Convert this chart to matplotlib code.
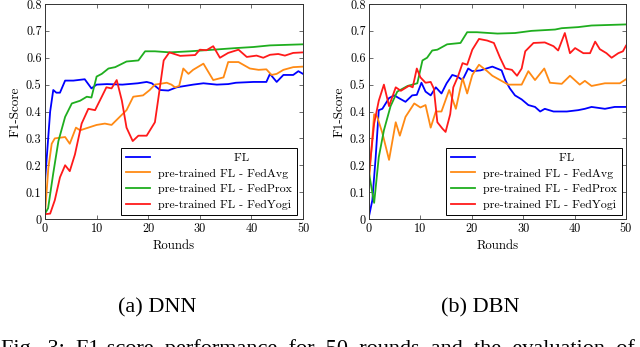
"""F1-score vs rounds for DNN and DBN, FL vs pre-trained FL variants."""

import matplotlib
matplotlib.use("Agg")
import matplotlib.pyplot as plt

# ---- data ----
dnn_fl_r = [0, 1, 1.6, 2.2, 2.9, 3.9, 5.5, 7.7, 9.0, 10, 12, 15, 18, 19.7, 20.7, 22.3,
            23.9, 25.5, 28.7, 30.7, 33.3, 35.5, 37, 40.4, 42.9, 43.6, 44.9, 46.2, 48.1, 49.1, 50]
dnn_fl = [0.14, 0.40, 0.48, 0.47, 0.47, 0.515, 0.515, 0.52, 0.486, 0.50, 0.502, 0.50, 0.505,
          0.51, 0.505, 0.48, 0.478, 0.49, 0.50, 0.505, 0.50, 0.502, 0.507, 0.51, 0.51, 0.54,
          0.51, 0.536, 0.536, 0.55, 0.54]

dnn_avg_r = [0, 0.65, 1.3, 1.9, 3.9, 4.8, 6.0, 6.8, 10, 11.6, 12.9, 15.8, 17.1, 19, 20.3,
             21.3, 23.6, 24.5, 25.2, 26.0, 26.8, 27.8, 28.7, 30.7, 32.6, 34.6, 35.5, 37.5,
             39.7, 41.4, 42.9, 43.9, 44.9, 46.2, 48.1, 50]
dnn_avg = [0.02, 0.19, 0.28, 0.30, 0.305, 0.28, 0.34, 0.33, 0.35, 0.355, 0.35, 0.405, 0.455,
           0.46, 0.48, 0.50, 0.507, 0.50, 0.49, 0.495, 0.56, 0.54, 0.555, 0.578, 0.517, 0.527,
           0.584, 0.584, 0.56, 0.555, 0.557, 0.536, 0.54, 0.555, 0.565, 0.567]

dnn_prox_r = [0, 0.6, 1.6, 2.6, 3.9, 5.2, 6.8, 8.1, 9.0, 10, 11, 12.3, 13.6, 15.8, 18.1,
              19.4, 21.3, 24.2, 28.1, 32.6, 37, 40.4, 43.6, 50]
dnn_prox = [0.02, 0.04, 0.17, 0.29, 0.38, 0.43, 0.44, 0.455, 0.452, 0.53, 0.54, 0.56, 0.565,
            0.586, 0.59, 0.624, 0.624, 0.62, 0.624, 0.63, 0.636, 0.64, 0.646, 0.65]

dnn_yogi_r = [0, 1, 1.9, 2.9, 3.9, 4.8, 5.8, 7.1, 8.4, 9.7, 11, 11.9, 12.9, 13.9, 14.9, 15.8,
              17, 18.1, 19.7, 21.3, 21.9, 23, 24.1, 26.2, 29.1, 30, 31.3, 32.6, 33.9, 35.5,
              37.5, 39.1, 41, 42.3, 43.6, 45.2, 46.5, 48.1, 50]
dnn_yogi = [0.018, 0.02, 0.07, 0.155, 0.20, 0.178, 0.24, 0.355, 0.41, 0.405, 0.455, 0.49,
            0.486, 0.517, 0.44, 0.34, 0.29, 0.31, 0.31, 0.36, 0.44, 0.59, 0.62, 0.607, 0.61,
            0.63, 0.628, 0.643, 0.60, 0.618, 0.63, 0.603, 0.608, 0.60, 0.611, 0.614, 0.608,
            0.618, 0.62]

dbn_fl_r = [0, 0.65, 1.3, 1.9, 2.6, 3.9, 4.9, 5.8, 7.1, 8.4, 9.3, 10.2, 11, 12, 13, 14.1,
            15.1, 16.2, 17.2, 18.2, 19.3, 20.1, 21.7, 24, 25.8, 26.5, 27.4, 28.4, 29.7, 31,
            32.3, 33.3, 34.2, 35.9, 38.5, 40.7, 42, 43.3, 45.9, 47.8, 50]
dbn_fl = [0.01, 0.07, 0.23, 0.405, 0.41, 0.45, 0.46, 0.45, 0.436, 0.46, 0.462, 0.507, 0.474,
          0.46, 0.49, 0.467, 0.505, 0.536, 0.53, 0.517, 0.56, 0.55, 0.553, 0.567, 0.553,
          0.517, 0.486, 0.46, 0.445, 0.424, 0.417, 0.40, 0.41, 0.40, 0.40, 0.405, 0.41,
          0.417, 0.41, 0.417, 0.417]

dbn_avg_r = [0, 1, 1.6, 2.6, 3.9, 5.2, 6, 7.1, 8.8, 10, 11, 12, 13, 14.1, 15.6, 16.9, 18.2,
             19.1, 20.1, 21.4, 23, 24, 25.5, 27.1, 29.7, 31, 32.3, 34.1, 35.2, 37.5, 39.1,
             41, 42, 43.3, 45.9, 48.8, 50]
dbn_avg = [0.14, 0.39, 0.38, 0.32, 0.22, 0.36, 0.31, 0.38, 0.43, 0.415, 0.424, 0.34, 0.40,
           0.40, 0.48, 0.41, 0.524, 0.467, 0.536, 0.574, 0.55, 0.533, 0.517, 0.50, 0.50,
           0.55, 0.517, 0.56, 0.507, 0.503, 0.533, 0.50, 0.514, 0.495, 0.505, 0.505, 0.52]

dbn_prox_r = [0, 1, 1.9, 2.9, 4.2, 5.5, 7.5, 9.4, 10.4, 11.3, 12.3, 13.3, 15.2, 17.8, 19.1,
              21, 25, 28.4, 31.6, 36.2, 37.5, 40.7, 43.3, 50]
dbn_prox = [0.17, 0.06, 0.23, 0.33, 0.42, 0.474, 0.495, 0.505, 0.59, 0.60, 0.627, 0.63, 0.65,
            0.655, 0.695, 0.695, 0.69, 0.692, 0.70, 0.705, 0.71, 0.714, 0.72, 0.724]

dbn_yogi_r = [0, 1, 1.9, 2.9, 3.9, 5.2, 6.2, 7.8, 8.5, 9.3, 10, 11, 12, 12.6, 13.3, 14.3,
              14.9, 15.8, 16.4, 17.3, 18.2, 19.1, 20.1, 21.4, 23, 24.3, 25.5, 26.5, 27.8,
              28.8, 29.7, 30.4, 32, 34.2, 35.9, 36.8, 38.1, 39.1, 40.1, 41.7, 43, 44, 44.9,
              46.2, 47.2, 48.5, 49.4, 50]
dbn_yogi = [0.17, 0.355, 0.44, 0.50, 0.42, 0.49, 0.477, 0.496, 0.49, 0.56, 0.527, 0.507,
            0.51, 0.486, 0.36, 0.336, 0.324, 0.39, 0.49, 0.53, 0.58, 0.574, 0.63, 0.67,
            0.664, 0.655, 0.60, 0.56, 0.555, 0.533, 0.56, 0.624, 0.655, 0.657, 0.643, 0.627,
            0.692, 0.617, 0.636, 0.617, 0.617, 0.66, 0.632, 0.617, 0.60, 0.617, 0.624, 0.645]

labels = ["FL", "pre-trained FL - FedAvg", "pre-trained FL - FedProx", "pre-trained FL - FedYogi"]
colors = ["#0000ff", "#ff8a14", "#1fae1f", "#ff1a1a"]
x_ticks = [0, 10, 20, 30, 40, 50]
y_ticks = [0, 0.1, 0.2, 0.3, 0.4, 0.5, 0.6, 0.7, 0.8]
y_tick_labels = ["0", "0.1", "0.2", "0.3", "0.4", "0.5", "0.6", "0.7", "0.8"]
caption = "Fig.  3:  F1-score  performance  for  50  rounds  and  the  evaluation  of"

AX_FONT = "cmr10"
CAP_FONT = "Liberation Serif"
W, H = 640, 347


def draw_panel(ax, series, legend_x):
    for (r, v), lab, c in zip(series, labels, colors):
        ax.plot(r, v, color=c, linewidth=1.3, label=lab)
    ax.set_xlim(0, 50)
    ax.set_ylim(0, 0.8)
    ax.set_xticks(x_ticks)
    ax.set_yticks(y_ticks)
    ax.set_yticklabels(y_tick_labels)
    ax.tick_params(direction="in", top=True, right=True, length=3, width=0.6,
                   color="#555555", labelsize=8.8, pad=2.5)
    for lbl in ax.get_xticklabels() + ax.get_yticklabels():
        lbl.set_fontfamily(AX_FONT)
    for sp in ax.spines.values():
        sp.set_linewidth(0.7)
        sp.set_color("#333333")
    ax.set_xlabel("Rounds", fontfamily=AX_FONT, fontsize=9.2, labelpad=4)
    ax.set_ylabel("F1-Score", fontfamily=AX_FONT, fontsize=9.5, labelpad=3)
    leg = ax.legend(loc="lower right", bbox_to_anchor=(legend_x, 0.019),
                    prop={"family": AX_FONT, "size": 8.6}, frameon=True, fancybox=False,
                    edgecolor="black", framealpha=1, handlelength=2.0, handletextpad=0.7,
                    borderpad=0.4, labelspacing=0.45, borderaxespad=0)
    leg.get_frame().set_linewidth(0.7)
    # centre the short "FL" entry like pgfplots does
    leg.get_texts()[0].set_text(" " * 19 + "FL")


fig = plt.figure(figsize=(W / 100, H / 100), dpi=100)
ax1 = fig.add_axes([45 / W, 1 - 219 / H, 258 / W, 215 / H])
ax2 = fig.add_axes([369 / W, 1 - 219 / H, 257 / W, 215 / H])

draw_panel(ax1, [(dnn_fl_r, dnn_fl), (dnn_avg_r, dnn_avg),
                 (dnn_prox_r, dnn_prox), (dnn_yogi_r, dnn_yogi)], 0.977)
draw_panel(ax2, [(dbn_fl_r, dbn_fl), (dbn_avg_r, dbn_avg),
                 (dbn_prox_r, dbn_prox), (dbn_yogi_r, dbn_yogi)], 0.984)

fig.text(157 / W, 1 - 308 / H, "(a) DNN", fontfamily=CAP_FONT, fontsize=16,
         ha="center", va="center")
fig.text(480 / W, 1 - 308 / H, "(b) DBN", fontfamily=CAP_FONT, fontsize=16,
         ha="center", va="center")
# caption line, cut off by the bottom edge in the reference
fig.text(1 / W, 1 - 354 / H, caption, fontfamily=CAP_FONT, fontsize=16,
         ha="left", va="baseline")

fig.savefig("out.png", dpi=100)
